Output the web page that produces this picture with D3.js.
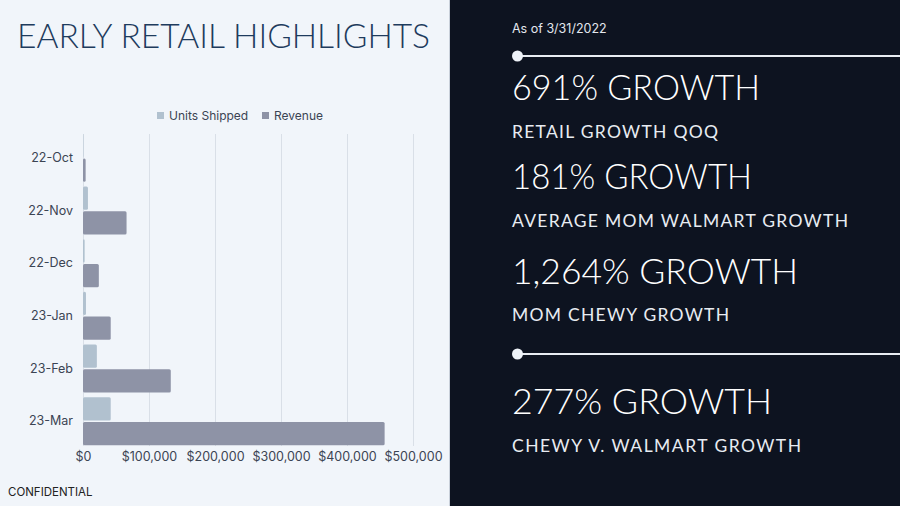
<!DOCTYPE html>
<html>
<head>
<meta charset="utf-8">
<script src="https://cdn.jsdelivr.net/npm/d3@7"></script>
<style>
  body { margin: 0; background: #f1f5fa; }
  svg { display: block; }
</style>
</head>
<body>
<div id="c1"></div>
<script>
// Data
var months = ["22-Oct", "22-Nov", "22-Dec", "23-Jan", "23-Feb", "23-Mar"];
var seriesNames = ["Units Shipped", "Revenue"];
var unitsShipped = [500, 7500, 2500, 4500, 21000, 42000];
var revenue = [4000, 66000, 24000, 42000, 133000, 457000];
var xTicks = [0, 100000, 200000, 300000, 400000, 500000];

// Highlight panel texts
var asOf = "As of 3/31/2022";
var highlights = [
  { big: "691% GROWTH", small: "RETAIL GROWTH QOQ" },
  { big: "181% GROWTH", small: "AVERAGE MOM WALMART GROWTH" },
  { big: "1,264% GROWTH", small: "MOM CHEWY GROWTH" },
  { big: "277% GROWTH", small: "CHEWY V. WALMART GROWTH" }
];

var colors = { "Units Shipped": "#b1c1cf", "Revenue": "#8e93a6" };

function draw() {
  var svg = d3.select("#c1").append("svg")
    .attr("width", 900)
    .attr("height", 506);

  // backgrounds
  svg.append("rect").attr("x", 0).attr("y", 0).attr("width", 450).attr("height", 506).attr("fill", "#f1f5fa");
  svg.append("rect").attr("x", 450).attr("y", 0).attr("width", 450).attr("height", 506).attr("fill", "#0d1320");
  svg.append("line").attr("x1", 449.5).attr("x2", 449.5).attr("y1", 0).attr("y2", 506)
    .attr("stroke", "#c9d0da").attr("stroke-width", 1);

  // title
  svg.append("text")
    .attr("x", 17).attr("y", 48)
    .attr("font-family", "Lato, sans-serif")
    .attr("font-size", 33)
    .attr("font-weight", 300)
    .attr("fill", "#1e3b5d")
    .attr("textLength", 413)
    .attr("lengthAdjust", "spacingAndGlyphs")
    .text("EARLY RETAIL HIGHLIGHTS");

  // Scales
  var x = d3.scaleLinear().domain([0, 500000]).range([83, 413]);
  var y = d3.scaleBand().domain(months).range([131.5, 447.5])
    .paddingInner(0.09).paddingOuter(0.045);
  var y1 = d3.scaleBand().domain(seriesNames).range([0, y.bandwidth()]).paddingInner(0.06);

  var rows = months.map(function (m, i) {
    return { month: m, values: [
      { name: "Units Shipped", value: unitsShipped[i] },
      { name: "Revenue", value: revenue[i] }
    ] };
  });

  // gridlines
  svg.append("g").selectAll("line")
    .data(xTicks)
    .enter().append("line")
    .attr("x1", function (d) { return x(d) + 0.5; })
    .attr("x2", function (d) { return x(d) + 0.5; })
    .attr("y1", 134).attr("y2", 446)
    .attr("stroke", "#d9dfe7")
    .attr("stroke-width", 1);

  // bars
  var groups = svg.append("g").selectAll("g")
    .data(rows)
    .enter().append("g")
    .attr("transform", function (d) { return "translate(0," + y(d.month) + ")"; });

  groups.selectAll("rect")
    .data(function (d) { return d.values; })
    .enter().append("rect")
    .attr("x", x(0))
    .attr("y", function (d) { return y1(d.name); })
    .attr("width", function (d) { return Math.max(0, x(d.value) - x(0)); })
    .attr("height", y1.bandwidth())
    .attr("rx", 1.5)
    .attr("fill", function (d) { return colors[d.name]; });

  // axes
  var xAxis = svg.append("g")
    .attr("transform", "translate(0,452)")
    .call(d3.axisBottom(x).tickValues(xTicks).tickSize(0).tickPadding(0)
      .tickFormat(function (d) { return "$" + d3.format(",")(d); }));
  xAxis.select(".domain").remove();
  xAxis.selectAll("text")
    .attr("dy", "0.71em")
    .attr("font-family", "Inter, sans-serif")
    .attr("font-size", 12.5)
    .attr("fill", "#3b4453");

  var yAxis = svg.append("g")
    .attr("transform", "translate(83,0)")
    .call(d3.axisLeft(y).tickSize(0).tickPadding(10));
  yAxis.select(".domain").remove();
  yAxis.selectAll("text")
    .attr("font-family", "Inter, sans-serif")
    .attr("font-size", 12.5)
    .attr("fill", "#3b4453");

  // legend
  var legend = svg.append("g");
  var legendX = [157, 262];
  seriesNames.forEach(function (s, i) {
    legend.append("rect")
      .attr("x", legendX[i]).attr("y", 112)
      .attr("width", 7).attr("height", 7)
      .attr("fill", colors[s]);
    legend.append("text")
      .attr("x", legendX[i] + 12).attr("y", 119.5)
      .attr("font-family", "Inter, sans-serif")
      .attr("font-size", 12)
      .attr("fill", "#3b4453")
      .text(s);
  });

  // footer
  svg.append("text")
    .attr("x", 8).attr("y", 496)
    .attr("font-family", "Inter, sans-serif")
    .attr("font-size", 11.5)
    .attr("fill", "#222")
    .text("CONFIDENTIAL");

  // right panel
  svg.append("text")
    .attr("x", 512).attr("y", 33)
    .attr("font-family", "Inter, sans-serif")
    .attr("font-size", 12.5)
    .attr("fill", "#e3e7ee")
    .text(asOf);

  var rules = [56, 354];
  rules.forEach(function (ry) {
    svg.append("line")
      .attr("x1", 517).attr("x2", 900)
      .attr("y1", ry).attr("y2", ry)
      .attr("stroke", "#e8ecf2").attr("stroke-width", 2);
    svg.append("circle")
      .attr("cx", 517.5).attr("cy", ry)
      .attr("r", 5.5)
      .attr("fill", "#eef2f8");
  });

  var bigY = [100, 189, 283.5, 414];
  var bigEnd = [760, 752, 798, 772];
  var smallY = [137.5, 226.5, 320.5, 452];
  var smallEnd = [718, 848, 729, 801];

  highlights.forEach(function (h, i) {
    svg.append("text")
      .attr("x", 512).attr("y", bigY[i])
      .attr("font-family", "Lato, sans-serif")
      .attr("font-weight", 300)
      .attr("font-size", 36)
      .attr("fill", "#ffffff")
      .attr("textLength", bigEnd[i] - 512)
      .attr("lengthAdjust", "spacingAndGlyphs")
      .text(h.big);
    svg.append("text")
      .attr("x", 512).attr("y", smallY[i])
      .attr("font-family", "Lato, sans-serif")
      .attr("font-size", 17.5)
      .attr("fill", "#e8ecf2")
      .attr("textLength", smallEnd[i] - 512)
      .attr("lengthAdjust", "spacing")
      .text(h.small);
  });
}

draw();
</script>
</body>
</html>
